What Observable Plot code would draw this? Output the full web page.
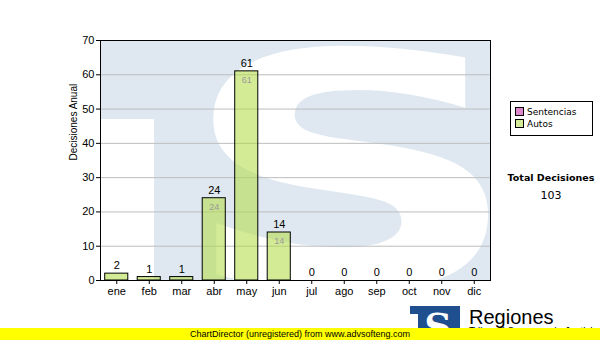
<!DOCTYPE html>
<html>
<head>
<meta charset="utf-8">
<script src="https://cdn.jsdelivr.net/npm/d3@7"></script>
<script src="https://cdn.jsdelivr.net/npm/@observablehq/plot@0.6"></script>
<style>
  html, body { margin: 0; padding: 0; background: #fff; }
  #wrap { position: relative; width: 600px; height: 340px; overflow: hidden; background: #fff; font-family: "Liberation Sans", Arial, sans-serif; }
  #wrap svg { display: block; }
  .abs { position: absolute; white-space: nowrap; }
</style>
</head>
<body>
<div id="wrap"></div>
<script>
// ---- data ----
const months = ["ene","feb","mar","abr","may","jun","jul","ago","sep","oct","nov","dic"];
const autos = [2, 1, 1, 24, 61, 14, 0, 0, 0, 0, 0, 0];
const sentencias = [0, 0, 0, 0, 0, 0, 0, 0, 0, 0, 0, 0];
const yTicks = [0, 10, 20, 30, 40, 50, 60, 70];
const legendLabels = ["Sentencias", "Autos"];
const legendColors = ["#dd88cc", "#d4ec98"];
const yTitle = "Decisiones Anual";
const totalLabel = "Total Decisiones";
const totalValue = 103;
const footerText = "ChartDirector (unregistered) from www.advsofteng.com";

const data = months.map((m, i) => ({m, v: autos[i] + sentencias[i]}));

// background watermark (decoration)
function watermark(index, scales, values, dim) {
  const x0 = dim.marginLeft, x1 = dim.width - dim.marginRight;
  const y0 = dim.marginTop, y1 = dim.height - dim.marginBottom;
  const g = d3.create("svg:g");
  g.append("clipPath").attr("id", "wmclip").append("rect")
    .attr("x", x0).attr("y", y0).attr("width", x1 - x0).attr("height", y1 - y0);
  const inner = g.append("g").attr("clip-path", "url(#wmclip)");
  inner.append("rect").attr("x", x0).attr("y", y0).attr("width", x1 - x0).attr("height", y1 - y0).attr("fill", "#dfe8f1");
  inner.append("rect").attr("x", x0).attr("y", y0 + 79).attr("width", 54).attr("height", y1 - y0).attr("fill", "#fff");
  inner.append("text")
    .attr("transform", `translate(${x0 + 251},${y1 + 7}) scale(1.47,1)`)
    .attr("text-anchor", "middle")
    .attr("font-family", "DejaVu Sans")
    .attr("font-weight", "bold")
    .attr("font-size", 325)
    .attr("fill", "#fff")
    .text("S");
  return g.node();
}

const chart = Plot.plot({
  width: 600,
  height: 340,
  marginTop: 40,
  marginBottom: 60,
  marginLeft: 100,
  marginRight: 110,
  style: {fontFamily: "Liberation Sans, Arial, sans-serif", fontSize: "11px", color: "#000", background: "transparent", overflow: "visible"},
  x: {domain: months, paddingInner: 0.29, paddingOuter: 0.145, align: 0.5, round: false, label: null, tickSize: 4, tickPadding: 3},
  y: {domain: [0, 70], ticks: yTicks, label: null, tickSize: 4, tickPadding: 2},
  marks: [
    watermark,
    Plot.ruleY(yTicks.filter(d => d > 0), {stroke: "#bdbdbd", strokeWidth: 1}),
    Plot.barY(data, {x: "m", y: "v", fill: "#b2dc43", fillOpacity: 0.56, stroke: "#000", strokeWidth: 1}),
    Plot.frame({stroke: "#000", strokeWidth: 1}),
    Plot.text(data, {x: "m", y: "v", text: d => String(d.v), dy: -8, fill: "#000", fontSize: 11}),
    Plot.text(data.filter(d => d.v >= 5), {x: "m", y: "v", text: d => String(d.v), dy: 9, fill: "#9a9a9a", fontSize: 9}),
    Plot.text([yTitle], {frameAnchor: "left", dx: -27, rotate: -90, text: d => d, fontSize: 10, fill: "#000"})
  ]
});

const wrap = document.getElementById("wrap");
chart.style.position = "absolute";
chart.style.left = "0px";
chart.style.top = "0px";
wrap.appendChild(chart);

// legend box
const leg = document.createElement("div");
leg.className = "abs";
leg.style.cssText = "left:510px;top:101px;width:81px;height:33px;border:1px solid #000;background:#fff;font-family:'DejaVu Sans',Verdana,sans-serif;font-size:9px;";
legendLabels.forEach((lab, i) => {
  const row = document.createElement("div");
  row.className = "abs";
  row.style.cssText = `left:4px;top:${5 + i * 12}px;line-height:11px;`;
  row.innerHTML = `<span style="display:inline-block;width:7px;height:7px;border:1px solid #000;background:${legendColors[i]};margin-right:3px;vertical-align:-1px"></span>${lab}`;
  leg.appendChild(row);
});
wrap.appendChild(leg);

const tl = document.createElement("div");
tl.className = "abs";
tl.style.cssText = "left:491px;width:120px;top:172px;text-align:center;font-family:'DejaVu Sans',Verdana,sans-serif;font-size:9.5px;font-weight:bold;";
tl.textContent = totalLabel;
wrap.appendChild(tl);
const tv = document.createElement("div");
tv.className = "abs";
tv.style.cssText = "left:491px;width:120px;top:189px;text-align:center;font-family:'DejaVu Sans',Verdana,sans-serif;font-size:11px;";
tv.textContent = String(totalValue);
wrap.appendChild(tv);

// logo bottom-right
const logo = document.createElementNS("http://www.w3.org/2000/svg", "svg");
logo.setAttribute("width", "190");
logo.setAttribute("height", "36");
logo.style.cssText = "position:absolute;left:408px;top:304px;";
logo.innerHTML = `
  <rect x="2" y="2" width="50" height="34" fill="#1f4f8f"/>
  <rect x="2" y="10" width="8" height="26" fill="#fff"/>
  <text x="30" y="36" text-anchor="middle" font-family="DejaVu Serif" font-weight="bold" font-size="38" fill="#fff">S</text>
  <text x="61" y="20" font-family="Liberation Sans, Arial" font-size="20" fill="#000">Regiones</text>
  <text x="61" y="31" font-family="Liberation Sans, Arial" font-size="10" fill="#000">Tribunal Supremo de Justicia</text>`;
wrap.appendChild(logo);

// footer bar
const foot = document.createElement("div");
foot.className = "abs";
foot.style.cssText = "left:0;top:328px;width:600px;height:12px;background:#ffff00;text-align:center;font-size:9px;line-height:12px;color:#000;";
foot.textContent = footerText;
wrap.appendChild(foot);
</script>
</body>
</html>
